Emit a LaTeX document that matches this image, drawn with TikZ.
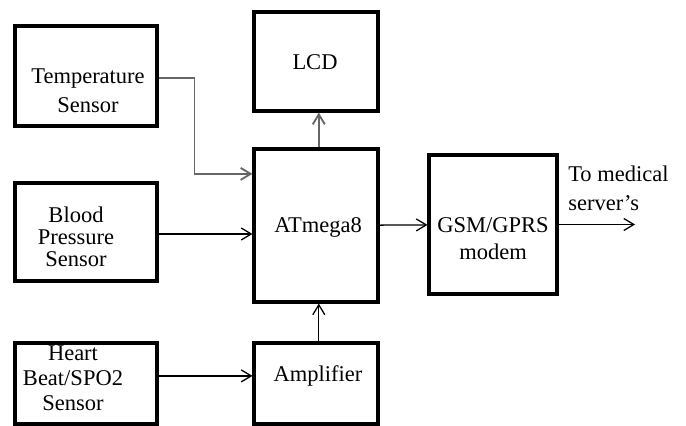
\documentclass[tikz,border=0pt]{standalone}
\usepackage{fontspec}
\setmainfont{Liberation Serif}
\usepackage{tikz}
\usetikzlibrary{arrows.meta,positioning,calc}

\begin{document}
\begin{tikzpicture}[
    x=0.025cm, y=-0.025cm,
    box/.style={rectangle, draw, line width=2.2pt, inner sep=0pt},
    txt/.style={align=center, font=\fontsize{16}{#1}\selectfont, inner sep=0pt},
    txt/.default=17,
    arrow/.style={->, line width=0.9pt, >={Straight Barb[length=0.25cm, width=0.3cm]}},
    grayarrow/.style={arrow, draw=black!60, line width=1.3pt}
]
\useasboundingbox (0,0) rectangle (686,426);

% Sensors
\node[box, minimum width=3.55cm, minimum height=2.5cm] (temp) at (86,76) {};
\node[txt=20.5] (tempT) at (88,91) {Temperature\\Sensor};

\node[box, minimum width=3.55cm, minimum height=2.45cm] (blood) at (86,232) {};
\node[txt=15.5] (bloodT) at (76,237) {Blood\\Pressure\\Sensor};

\node[box, minimum width=3.55cm, minimum height=2.025cm] (heart) at (86,383.5) {};
\node[txt=17.7] (heartT) at (73,378) {Heart\\Beat/SPO2\\Sensor};

% Controller, display, amplifier
\node[box, minimum width=3.1cm, minimum height=2.475cm] (lcd) at (316,61.5) {};
\node[txt] (lcdT) at (315,62) {LCD};

\node[box, minimum width=3.1cm, minimum height=3.825cm] (atm) at (316,225.5) {};
\node[txt] (atmT) at (318,227) {ATmega8};

\node[box, minimum width=3.1cm, minimum height=2.025cm] (amp) at (316,383.5) {};
\node[txt] (ampT) at (318,376) {Amplifier};

% Modem
\node[box, minimum width=3.2cm, minimum height=3.475cm] (gsm) at (493,224.5) {};
\node[txt=19] (gsmT) at (493,239) {GSM/GPRS\\modem};

\coordinate (out) at (635,224.5);
\node[txt=20.5, align=left, anchor=west] (outT) at (568,188) {To medical\\server's};

% Connections
\draw[grayarrow] ([yshift=-0.05cm]temp.east) -- ++(36,0) |- ([yshift=1.29cm]atm.west);
\draw[arrow] ([yshift=-0.05cm]blood.east) -- ([yshift=-0.05cm]blood.east -| atm.west);
\draw[arrow] ([yshift=0.19cm]heart.east) -- ([yshift=0.19cm]amp.west);
\draw[grayarrow] ([xshift=0.07cm]atm.north) -- ([xshift=0.07cm]lcd.south);
\draw[arrow] ([xshift=0.07cm]amp.north) -- ([xshift=0.07cm]atm.south);
\draw[arrow] (atm) -- (gsm);
\draw[arrow] (gsm.east) -- (out);

\end{tikzpicture}
\end{document}
